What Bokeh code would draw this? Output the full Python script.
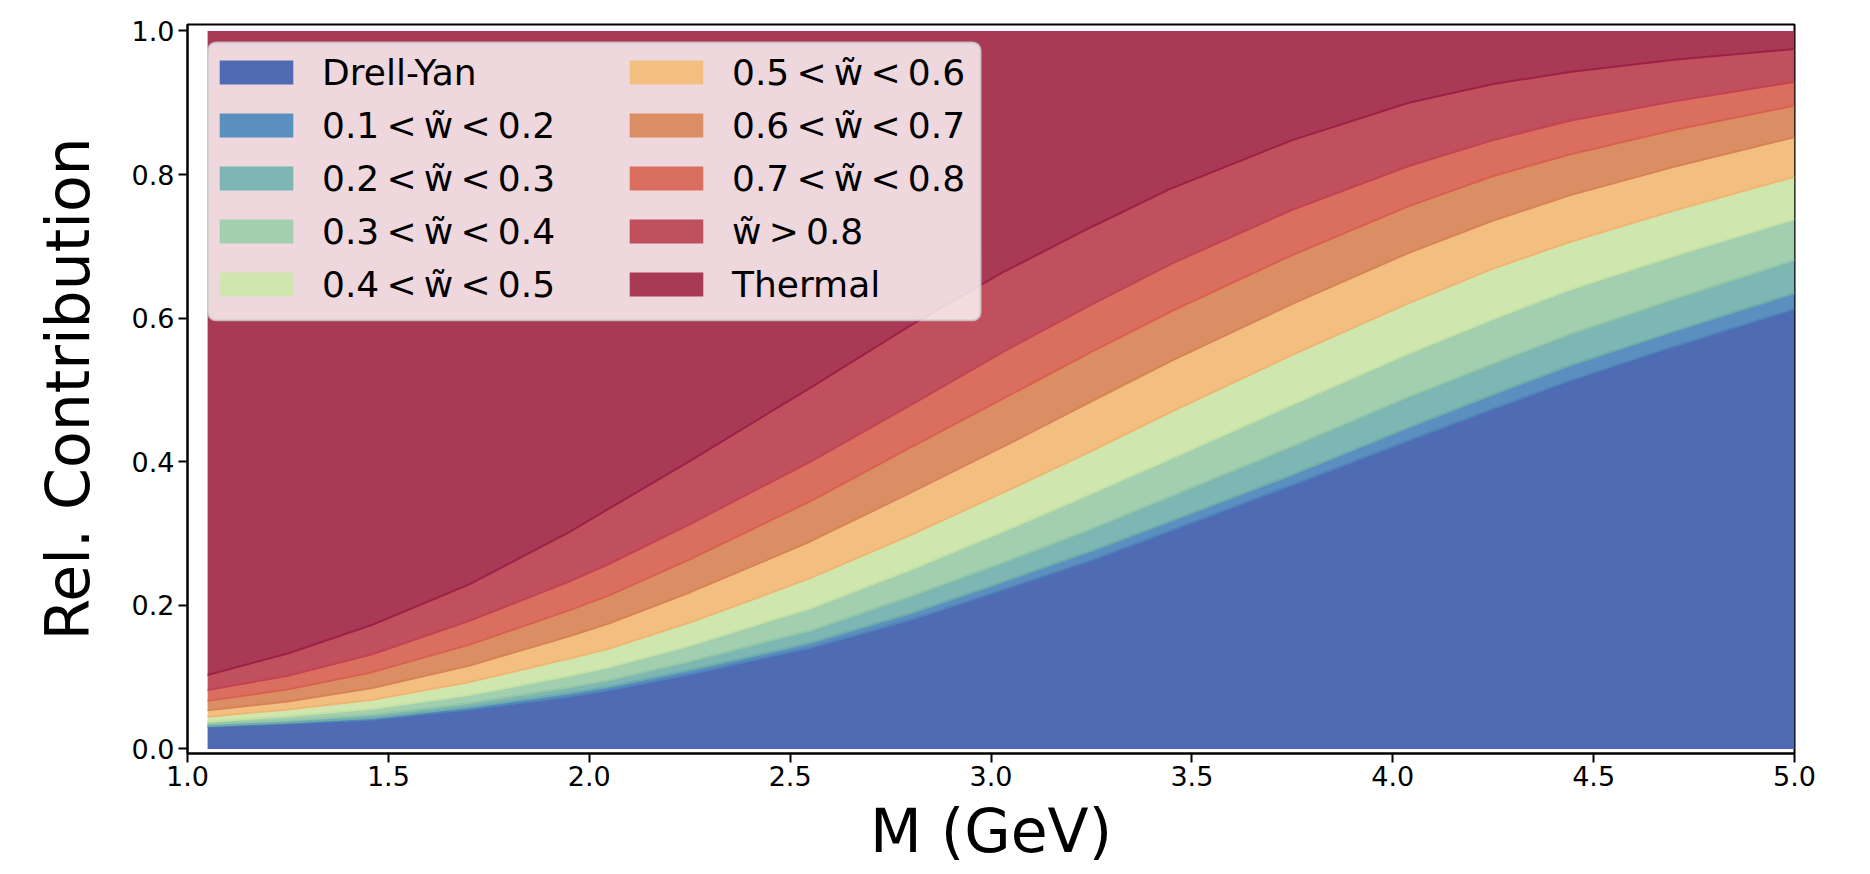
from bokeh.plotting import figure
from bokeh.models import (ColumnDataSource, Range1d, FixedTicker, NumeralTickFormatter,
                          Legend, LegendItem, BoxAnnotation)
from bokeh.transform import stack
from bokeh.embed import file_html
from bokeh.resources import INLINE

# ---- data (relative contributions) ----
mass = [1.05, 1.25, 1.46, 1.70, 1.95, 2.05, 2.25, 2.45, 2.55, 2.80,
        3.03, 3.25, 3.45, 3.75, 4.04, 4.25, 4.44, 4.70, 5.00]
drell_yan = [0.031, 0.0355, 0.041, 0.055, 0.073, 0.082, 0.104, 0.129, 0.141, 0.180,
             0.222, 0.263, 0.305, 0.368, 0.430, 0.474, 0.513, 0.561, 0.613]
w_01_02 = [0.001, 0.0015, 0.002, 0.003, 0.005, 0.005, 0.006, 0.006, 0.007, 0.009,
           0.011, 0.013, 0.013, 0.014, 0.018, 0.020, 0.021, 0.021, 0.022]
w_02_03 = [0.003, 0.003, 0.005, 0.006, 0.008, 0.009, 0.012, 0.016, 0.017, 0.024,
           0.027, 0.031, 0.035, 0.040, 0.043, 0.043, 0.044, 0.045, 0.046]
w_03_04 = [0.003, 0.006, 0.008, 0.011, 0.016, 0.018, 0.022, 0.028, 0.031, 0.037,
           0.043, 0.049, 0.052, 0.058, 0.060, 0.062, 0.062, 0.060, 0.057]
w_04_05 = [0.007, 0.009, 0.0125, 0.018, 0.024, 0.026, 0.032, 0.038, 0.042, 0.048,
           0.054, 0.059, 0.065, 0.069, 0.070, 0.070, 0.066, 0.063, 0.059]
w_05_06 = [0.009, 0.011, 0.0165, 0.023, 0.031, 0.035, 0.042, 0.048, 0.051, 0.059,
           0.064, 0.069, 0.071, 0.071, 0.070, 0.067, 0.065, 0.061, 0.055]
w_06_07 = [0.013, 0.017, 0.022, 0.029, 0.036, 0.039, 0.046, 0.053, 0.056, 0.063,
           0.067, 0.069, 0.069, 0.068, 0.065, 0.062, 0.057, 0.051, 0.044]
w_07_08 = [0.015, 0.019, 0.025, 0.033, 0.040, 0.044, 0.049, 0.053, 0.055, 0.059,
           0.065, 0.066, 0.066, 0.063, 0.056, 0.050, 0.047, 0.040, 0.033]
w_gt_08 = [0.021, 0.031, 0.041, 0.051, 0.069, 0.077, 0.088, 0.098, 0.103, 0.111,
           0.111, 0.108, 0.105, 0.097, 0.088, 0.078, 0.068, 0.058, 0.046]
thermal = [0.897, 0.867, 0.827, 0.771, 0.698, 0.665, 0.599, 0.531, 0.497, 0.410,
           0.336, 0.273, 0.219, 0.152, 0.100, 0.074, 0.057, 0.040, 0.025]

series_keys = ["dy", "w12", "w23", "w34", "w45", "w56", "w67", "w78", "w8", "th"]
TS = "\u2009"  # thin space, as in the math-typeset legend labels
series_labels = ["Drell-Yan",
                 f"0.1{TS}<{TS}w\u0303{TS}<{TS}0.2", f"0.2{TS}<{TS}w\u0303{TS}<{TS}0.3",
                 f"0.3{TS}<{TS}w\u0303{TS}<{TS}0.4", f"0.4{TS}<{TS}w\u0303{TS}<{TS}0.5",
                 f"0.5{TS}<{TS}w\u0303{TS}<{TS}0.6", f"0.6{TS}<{TS}w\u0303{TS}<{TS}0.7",
                 f"0.7{TS}<{TS}w\u0303{TS}<{TS}0.8", f"w\u0303{TS}>{TS}0.8", "Thermal"]
fill_colors = ["#4f6bb3", "#5b8fbf", "#7db6b2", "#a2cfb0", "#cfe7ae",
               "#f3bf80", "#db8e63", "#db6f5f", "#c0505d", "#a83a56"]
edge_colors = ["#4a64ad", "#4f85b8", "#6fadab", "#96c8a6", "#c6e2a3",
               "#efb572", "#d88257", "#d96050", "#c24352", "#9c2245"]

x_ticks = [1.0, 1.5, 2.0, 2.5, 3.0, 3.5, 4.0, 4.5, 5.0]
y_ticks = [0.0, 0.2, 0.4, 0.6, 0.8, 1.0]

source = ColumnDataSource(dict(M=mass, dy=drell_yan, w12=w_01_02, w23=w_02_03, w34=w_03_04,
                               w45=w_04_05, w56=w_05_06, w67=w_06_07, w78=w_07_08,
                               w8=w_gt_08, th=thermal))

FONT = "DejaVu Sans"

p = figure(frame_width=1607, frame_height=729,
           x_range=Range1d(1.0, 5.0), y_range=Range1d(-0.0063, 1.009),
           output_backend="svg", toolbar_location=None,
           min_border_left=187, min_border_top=24, min_border_right=60, min_border_bottom=121)

renderers = p.varea_stack(stackers=series_keys, x="M", color=fill_colors,
                          fill_alpha=1.0, source=source)

for i in range(1, len(series_keys)):
    p.line(x="M", y=stack(*series_keys[:i]), source=source,
           line_color=edge_colors[i], line_width=2)

# axes styling
p.xgrid.visible = False
p.ygrid.visible = False
p.background_fill_color = "white"
p.outline_line_color = "black"
p.outline_line_width = 2
p.outline_line_alpha = 1

for ax in (p.xaxis[0], p.yaxis[0]):
    ax.axis_line_color = "black"
    ax.axis_line_width = 2
    ax.major_tick_line_color = "black"
    ax.major_tick_line_width = 2
    ax.major_tick_out = 9
    ax.major_tick_in = 0
    ax.minor_tick_line_color = None
    ax.major_label_text_font = FONT
    ax.major_label_text_font_size = "27px"
    ax.major_label_text_color = "black"
    ax.formatter = NumeralTickFormatter(format="0.0")
    ax.axis_label_text_font = FONT
    ax.axis_label_text_font_size = "60px"
    ax.axis_label_text_font_style = "normal"
    ax.axis_label_text_color = "black"

p.xaxis[0].ticker = FixedTicker(ticks=x_ticks)
p.yaxis[0].ticker = FixedTicker(ticks=y_ticks)
p.xaxis[0].major_label_standoff = 3
p.yaxis[0].major_label_standoff = 4

p.yaxis[0].axis_label = "Rel. Contribution"
p.yaxis[0].axis_label_standoff = 26
p.xaxis[0].axis_label = "M (GeV)"
p.xaxis[0].axis_label_standoff = 7

# legend frame
p.add_layout(BoxAnnotation(left=1.051, right=2.974, bottom=0.597, top=0.984,
                           fill_color="white", fill_alpha=0.8,
                           line_color="#cccccc", line_alpha=0.8, line_width=2,
                           border_radius=8))

def make_legend(idx, loc):
    items = [LegendItem(label=series_labels[i], renderers=[renderers[i]]) for i in idx]
    return Legend(items=items, location=loc, orientation="vertical",
                  background_fill_alpha=0, border_line_alpha=0,
                  padding=0, margin=0, spacing=11,
                  label_text_font=FONT, label_text_font_size="36px",
                  label_text_color="black",
                  glyph_width=92, glyph_height=30, label_standoff=20, label_height=42)

p.add_layout(make_legend(range(0, 5), (23, 448)), "center")
p.add_layout(make_legend(range(5, 10), (433, 448)), "center")

open("out.html", "w").write(file_html(p, INLINE))
